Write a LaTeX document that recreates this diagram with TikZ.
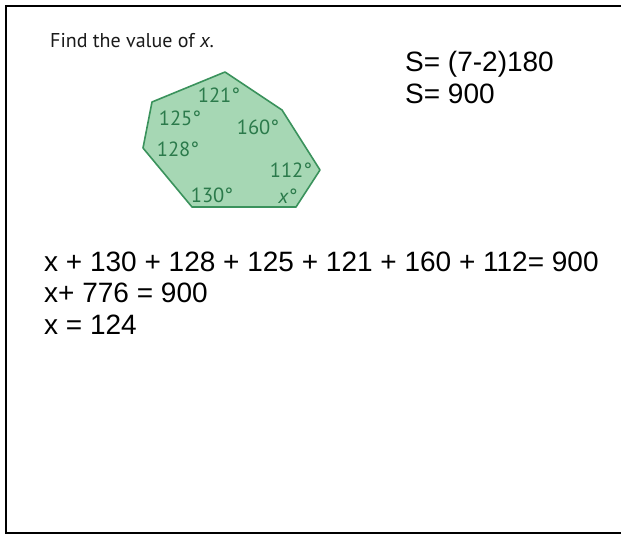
\documentclass[tikz,border=0pt]{standalone}
\usepackage{fontspec}
\usepackage{xcolor}
\usepackage{tikz}
\usetikzlibrary{positioning}
\setmainfont{Liberation Sans}
\newfontfamily\bookfont{PT Sans}
\definecolor{HPLine}{HTML}{3A925C}
\definecolor{HPFill}{HTML}{A6D7B4}
\definecolor{HPText}{HTML}{2B7A4B}
\definecolor{HPInk}{HTML}{1A1A1A}
\tikzset{
  hpframe/.style={draw=black,line width=2pt},
  hpgon/.style={draw=HPLine,fill=HPFill,line width=1.6pt,line join=round},
  hpangle/.style={font=\bookfont\fontsize{20.5}{20.5}\selectfont,text=HPText,inner sep=0pt},
  hptitle/.style={font=\bookfont\fontsize{20}{20}\selectfont,text=HPInk,inner sep=0pt,anchor=base west},
  hpwork/.style={font=\fontsize{28}{28}\selectfont,text=black,inner sep=0pt,anchor=base west},
}

\begin{document}
\begin{tikzpicture}[x=1pt,y=-1pt]
  \useasboundingbox (0,0) rectangle (621,535);
  \fill[white] (0,0) rectangle (621,535);

  % frame, open on the right
  \draw[hpframe] (621,6) -- (6,6) -- (6,533) -- (621,533);

  \node[hptitle] (title) at (50,48) {Find the value of \textit{x}.};

  % heptagon
  \coordinate (vTop) at (225,72);
  \coordinate (vUR) at (282,110);
  \coordinate (vR) at (320,170);
  \coordinate (vBR) at (296,207);
  \coordinate (vBL) at (192,207);
  \coordinate (vL) at (143,148);
  \coordinate (vUL) at (152,102);
  \draw[hpgon] (vTop) -- (vUR) -- (vR) -- (vBR) -- (vBL) -- (vL) -- (vUL) -- cycle;

  \node[hpangle] (aTop) at (219,95) {121°};
  \node[hpangle] (aUL) at (180,118) {125°};
  \node[hpangle] (aUR) at (258,127) {160°};
  \node[hpangle] (aL) at (178,149) {128°};
  \node[hpangle] (aR) at (291,170) {112°};
  \node[hpangle] (aBL) at (212,195) {130°};
  \node[hpangle] (aBR) at (288,196) {\textit{x}°};

  % angle sum
  \node[hpwork] (sumA) at (405,72) {S= (7-2)180};
  \node[hpwork] (sumB) at (405,103) {S= 900};

  % working
  \node[hpwork] (eqA) at (44,271) {x + 130 + 128 + 125 + 121 + 160 + 112= 900};
  \node[hpwork] (eqB) at (44,302.5) {x+ 776 = 900};
  \node[hpwork] (eqC) at (44,334) {x = 124};
\end{tikzpicture}
\end{document}
